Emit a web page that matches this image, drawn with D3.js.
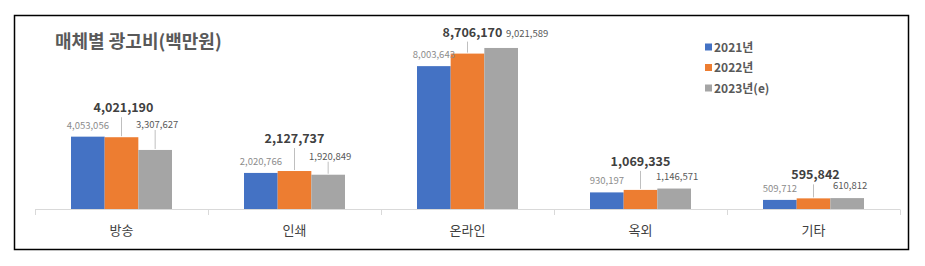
<!DOCTYPE html>
<html>
<head>
<meta charset="utf-8">
<style>
body { margin: 0; background: #fff; }
svg text { font-family: "Noto Sans CJK KR", "Noto Sans", sans-serif; }
</style>
<script src="https://cdn.jsdelivr.net/npm/d3@7"></script>
</head>
<body>
<svg id="chart" width="925" height="266"></svg>
<script>
// data (백만원)
var categories = ["방송", "인쇄", "온라인", "옥외", "기타"];
var seriesNames = ["2021년", "2022년", "2023년(e)"];
var v2021 = [4053056, 2020766, 8003643, 930197, 509712];
var v2022 = [4021190, 2127737, 8706170, 1069335, 595842];
var v2023 = [3307627, 1920849, 9021589, 1146571, 610812];

var colors = ["#4472C4", "#ED7D31", "#A5A5A5"];

// label lift above bar top, per category (hand-placed in original)
var liftMid = [30, 33, 22, 29, 24];
var liftRight = [25, 18, 14, 12, 12];
var shiftRight = [2, 2, 26, 3, 3];
var shiftMid = [2, 0, 5, 0, 2];

var svg = d3.select("#chart");

svg.append("rect")
    .attr("x", 14.5).attr("y", 15.5)
    .attr("width", 894).attr("height", 234)
    .attr("fill", "#fff")
    .attr("stroke", "#000")
    .attr("stroke-width", 1.5);

var x0 = d3.scaleBand()
    .domain(categories)
    .range([35, 900]);

var x1 = d3.scaleBand()
    .domain(seriesNames)
    .range([0, 101])
    .padding(0);

var y = d3.scaleLinear()
    .domain([0, 10000000])
    .range([209, 30.5]);

var fmt = d3.format(",");

// axis line + ticks at the band edges
var g = svg.append("g");
g.append("line")
    .attr("x1", 35).attr("x2", 900)
    .attr("y1", 209.5).attr("y2", 209.5)
    .attr("stroke", "#d9d9d9");
var edges = categories.map(function(c) { return x0(c); }).concat([x0.range()[1]]);
g.selectAll(".tick")
    .data(edges)
  .enter().append("line")
    .attr("x1", function(d) { return Math.round(d) + 0.5; })
    .attr("x2", function(d) { return Math.round(d) + 0.5; })
    .attr("y1", 209.5).attr("y2", 215)
    .attr("stroke", "#d9d9d9");

var rows = categories.map(function(c, i) {
  return { cat: c, i: i, vals: [v2021[i], v2022[i], v2023[i]] };
});

var groups = svg.selectAll(".grp")
    .data(rows)
  .enter().append("g")
    .attr("transform", function(d) {
      return "translate(" + (x0(d.cat) + (x0.bandwidth() - x1.range()[1]) / 2) + ",0)";
    });

groups.selectAll("rect")
    .data(function(d) { return d.vals.map(function(v, k) { return { v: v, k: k }; }); })
  .enter().append("rect")
    .attr("x", function(d) { return x1(seriesNames[d.k]); })
    .attr("width", x1.bandwidth())
    .attr("y", function(d) { return y(d.v); })
    .attr("height", function(d) { return y(0) - y(d.v); })
    .attr("fill", function(d) { return colors[d.k]; });

// 2021 labels
groups.append("text")
    .attr("x", x1(seriesNames[0]) + x1.bandwidth() / 2)
    .attr("y", function(d) { return y(d.vals[0]) - 8; })
    .attr("text-anchor", "middle")
    .attr("font-size", "9.5px")
    .attr("fill", "#8c8c8c")
    .text(function(d) { return fmt(d.vals[0]); });

// 2023 labels + leader
groups.append("line")
    .attr("x1", x1(seriesNames[2]) + x1.bandwidth() / 2)
    .attr("x2", x1(seriesNames[2]) + x1.bandwidth() / 2)
    .attr("y1", function(d) { return y(d.vals[2]) - liftRight[d.i] + 5; })
    .attr("y2", function(d) { return y(d.vals[2]) - 1; })
    .attr("stroke", "#bfbfbf")
    .attr("display", function(d) { return liftRight[d.i] > 16 ? null : "none"; });
groups.append("text")
    .attr("x", function(d) { return x1(seriesNames[2]) + x1.bandwidth() / 2 + shiftRight[d.i]; })
    .attr("y", function(d) { return y(d.vals[2]) - liftRight[d.i] + 3; })
    .attr("text-anchor", "middle")
    .attr("font-size", "9.5px")
    .attr("fill", "#595959")
    .text(function(d) { return fmt(d.vals[2]); });

// 2022 labels (bold) + leader
groups.append("line")
    .attr("x1", x1(seriesNames[1]) + x1.bandwidth() / 2)
    .attr("x2", x1(seriesNames[1]) + x1.bandwidth() / 2)
    .attr("y1", function(d) { return y(d.vals[1]) - liftMid[d.i] + 10; })
    .attr("y2", function(d) { return y(d.vals[1]) - 1; })
    .attr("stroke", "#bfbfbf");
groups.append("text")
    .attr("x", function(d) { return x1(seriesNames[1]) + x1.bandwidth() / 2 + shiftMid[d.i]; })
    .attr("y", function(d) { return y(d.vals[1]) - liftMid[d.i] + 5; })
    .attr("text-anchor", "middle")
    .attr("font-size", "12.5px")
    .attr("font-weight", "bold")
    .attr("fill", "#404040")
    .text(function(d) { return fmt(d.vals[1]); });

// category labels
svg.selectAll(".cat")
    .data(categories)
  .enter().append("text")
    .attr("x", function(d) { return x0(d) + x0.bandwidth() / 2; })
    .attr("y", 235)
    .attr("text-anchor", "middle")
    .attr("font-size", "13px")
    .attr("fill", "#404040")
    .text(function(d) { return d; });

// title
svg.append("text")
    .attr("x", 55).attr("y", 48)
    .attr("font-size", "18px")
    .attr("font-weight", "bold")
    .attr("fill", "#595959")
    .text("매체별 광고비(백만원)");

// legend
var leg = svg.selectAll(".leg")
    .data(seriesNames)
  .enter().append("g")
    .attr("transform", function(d, i) { return "translate(705," + (47 + i * 20.5) + ")"; });
leg.append("rect")
    .attr("x", 0).attr("y", -3.5)
    .attr("width", 7).attr("height", 7)
    .attr("fill", function(d, i) { return colors[i]; });
leg.append("text")
    .attr("x", 9).attr("y", 4.5)
    .attr("font-size", "12px")
    .attr("font-weight", "bold")
    .attr("fill", "#595959")
    .text(function(d) { return d; });
</script>
</body>
</html>
